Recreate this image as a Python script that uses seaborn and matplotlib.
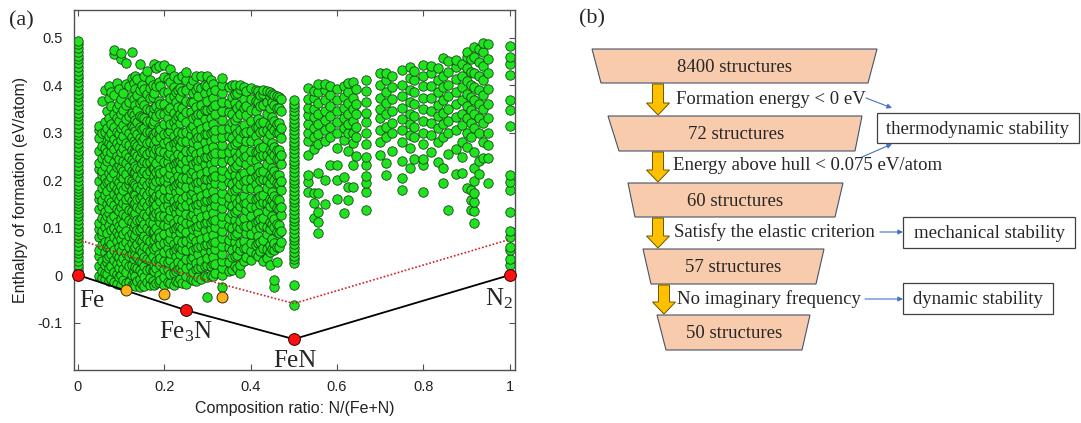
import numpy as np
import pandas as pd
import matplotlib.pyplot as plt
import seaborn as sns
from matplotlib.patches import Polygon, Rectangle

# ---- panel (a) data: enthalpy of formation (meV/atom) per composition N/(Fe+N)
fe_column = ("8 15 22 30 38 46 53 61 69 77 85 92 100 108 116 124 131 139 146 152 158 164 170 176 "
             "183 190 198 206 214 222 230 238 246 254 262 270 278 286 294 302 310 318 326 334 342 "
             "350 358 366 374 382 390 398 406 414 422 430 438 446 454 462 470 478 486 492")

cols_low = {
    0.048: "-3 18 41 52 79 97 110 138 160 171 199 224 236 262 289 305 314",
    0.056: "-6 9 30 63 84 92 121 146 157 183 210 218 247 271 298 367",
    0.0625: "-9 5 22 48 70 101 115 133 168 190 205 229 252 268 301 323 390",
    0.0667: "2 27 36 58 88 124 150 176 195 240 259 282 310 345",
    0.0714: "-12 14 39 60 72 106 130 142 161 199 215 247 279 292 330 372 398",
    0.0769: "-8 20 45 66 94 117 153 185 206 223 258 274 300 318 356 385",
    0.0833: "-15 6 31 53 80 99 125 148 171 190 214 238 265 287 312 340 380 466 474",
    0.0909: "-18 3 24 43 71 91 112 140 163 182 201 228 251 277 302 330 352 405",
    0.0952: "-5 15 38 60 85 104 135 158 176 196 232 244 270 297 325 361 392",
    0.1: "-20 -1 28 50 76 96 118 143 167 188 209 226 260 284 309 338 370 455 467",
    0.1053: "-10 12 35 63 87 109 129 152 178 205 219 241 268 292 316 348 384",
    0.1111: "-17 7 26 47 70 92 124 145 160 187 212 235 255 279 306 329 358 402 446",
    0.1176: "-14 19 40 58 82 115 137 165 192 200 227 249 273 300 335 365 398",
    0.125: "-21 0 22 45 67 89 111 134 156 179 197 220 243 264 290 314 342 377 414 470",
    0.1304: "-18 9 33 55 78 102 126 149 170 193 215 238 258 282 311 336 370 405",
    0.1333: "-23 -2 17 42 60 84 107 131 151 168 190 217 230 256 276 303 326 357 392 420",
    0.1379: "-12 14 38 66 94 115 143 160 186 209 225 250 271 297 322 348 380 412",
    0.1429: "-25 -8 11 30 52 73 95 116 138 162 181 203 224 246 268 289 312 335 362 389 444",
    0.1481: "-19 5 27 49 71 99 120 147 167 192 214 235 259 283 307 333 366 400",
    0.1538: "-24 -4 19 37 61 82 108 128 153 174 198 219 241 262 288 310 330 359 391 418",
    0.16: "-15 10 34 57 76 100 124 145 169 189 212 236 254 277 301 325 350 382 430",
}

cols_mid = {
    0.1667: "-22 -6 12 31 51 72 93 112 134 155 176 196 218 239 260 281 302 324 347 372 394 411",
    0.1739: "-12 10 40 58 90 109 127 156 176 196 226 245 265 296 318 338 374 400",
    0.1765: "-20 8 24 54 74 92 124 141 160 190 208 225 256 275 292 324 352 384 445",
    0.1818: "-17 15 30 60 79 98 130 148 166 198 216 236 266 285 302 335 356 397 436",
    0.1875: "-14 -1 29 44 73 88 117 132 162 178 207 222 252 266 297 312 346 366 406 440",
    0.1905: "-10 21 35 65 80 111 125 155 170 200 215 246 261 291 307 340 361 398",
    0.2: "-21 -5 12 30 49 68 87 106 125 144 163 182 201 220 239 258 277 297 317 338 360 385 416 442",
    0.2083: "-15 12 27 57 72 103 117 148 162 193 207 238 252 283 298 330 348 385 412",
    0.2143: "-16 2 31 46 76 91 122 136 167 181 212 227 257 272 303 318 352 372 406 433",
    0.2222: "-20 5 19 50 65 96 110 141 155 186 201 231 246 277 292 323 341 376 396 420",
    0.2273: "-12 9 40 54 85 100 130 145 175 190 221 235 266 281 312 329 364 386",
    0.2308: "-14 13 28 58 73 103 118 149 163 194 209 239 254 285 301 335 354 390 412",
    0.2353: "-8 14 44 59 90 104 135 149 180 195 225 240 271 287 320 338 374 394",
    0.24: "-16 9 24 55 69 100 115 145 160 191 205 236 251 283 299 332 352 388 418",
    0.25: "-18 -2 15 33 52 71 90 109 128 147 166 185 204 223 243 262 282 302 323 344 366 389 410 428",
    0.2609: "-9 18 33 63 78 109 124 155 170 201 215 246 262 294 310 344 364 400",
    0.2667: "-10 7 37 52 83 97 128 143 174 188 219 234 265 281 313 330 365 384 410",
    0.2727: "-12 12 26 57 72 102 117 148 162 193 208 239 254 286 302 335 353 389 420",
    0.2778: "-5 14 44 59 90 104 135 150 181 196 227 242 274 290 322 340 376 396",
    0.2857: "-8 16 30 61 76 107 122 153 167 198 213 244 259 291 307 340 358 394 418",
    0.2941: "-2 18 49 64 95 110 141 156 187 202 233 248 280 296 329 347 383 401",
    0.3: "-46 -4 21 35 66 81 112 126 157 172 203 218 249 265 297 313 347 366 398 418",
}

cols_high = {
    0.3077: "0 19 50 65 96 111 142 157 188 203 234 250 282 298 331 349 385 410",
    0.3125: "-2 23 38 69 84 115 130 161 176 207 222 254 270 302 319 353 372 402",
    0.3182: "5 24 55 70 101 116 147 162 193 208 240 256 288 305 339 358 390",
    0.3333: "-26 0 14 29 45 61 77 93 109 125 141 157 173 189 206 222 239 256 273 290 308 326 345 364 384 400 414",
    0.35: "8 27 58 73 104 119 150 165 196 212 244 260 293 310 344 363 395",
    0.3571: "10 38 53 84 99 130 145 177 192 224 240 272 289 322 340 375 400",
    0.3636: "20 39 70 85 116 132 163 179 211 227 259 276 309 327 362 382 400",
    0.3684: "15 42 57 89 104 136 151 183 199 231 248 281 298 332 351 383",
    0.375: "4 22 53 68 99 114 145 161 192 208 240 256 289 306 340 359 391 400",
    0.3846: "30 57 72 104 119 151 167 199 215 248 265 298 316 351 371 395",
    0.3889: "38 57 89 104 136 152 184 200 233 250 283 301 336 356 388",
    0.4: "32 50 68 87 106 125 144 163 183 202 222 242 262 283 304 325 347 370 393",
    0.4118: "45 64 96 112 144 160 192 209 242 259 293 311 346 366 390",
    0.4167: "40 67 82 114 130 162 178 210 227 260 277 311 329 364 388",
    0.4211: "50 70 102 118 150 167 200 217 250 268 302 321 356 380",
    0.4286: "30 57 73 105 121 153 169 202 219 252 270 304 323 358 382 390",
    0.4375: "35 54 86 102 134 151 184 201 234 252 286 305 340 364 387",
    0.4444: "21 48 64 96 112 145 161 194 211 245 263 297 316 352 376 385",
    0.45: "55 75 107 124 157 174 207 225 259 277 312 332 364 382",
    0.4545: "-25 -11 52 68 101 117 150 167 200 218 252 270 305 325 357 380",
    0.4615: "28 58 91 108 141 159 193 211 245 264 299 319 351 376",
    0.4667: "60 89 106 140 158 192 210 245 264 300 320 352 374",
    0.4706: "70 92 126 144 179 198 233 253 289 309 346 370",
}

fen_column = ("-63 -21 25 33 41 49 57 65 73 81 89 97 105 113 121 129 137 145 153 161 169 177 185 193 "
              "201 209 217 225 233 241 249 257 265 273 281 289 297 305 313 321 329 337 345 353 361 368")

cols_n_rich = {
    0.5333: "175 196 210 253 282 300 318 336 352 370 393",
    0.5455: "119 151 172 265 290 310 332 350 372 388",
    0.5556: "88 112 133 172 214 275 296 318 340 362 385 403",
    0.5714: "150 200 282 305 326 345 368 390 403",
    0.5833: "232 290 312 335 355 380 398",
    0.6: "161 200 232 268 300 322 345 368 392",
    0.6154: "130 207 285 310 330 352 375 398",
    0.625: "158 186 262 298 318 340 362 385 405",
    0.6364: "186 232 278 300 325 350 372 407",
    0.6429: "250 290 312 338 360 392",
    0.6667: "137 175 193 209 232 249 275 300 322 342 365 388 410",
    0.7: "253 280 305 330 350 372 400 425",
    0.7143: "210 235 290 312 340 362 385 410 425",
    0.7273: "262 298 320 345 370 395 418",
    0.75: "178 204 240 280 305 328 352 376 400 432",
    0.7692: "225 268 295 318 340 365 390 415 438",
    0.7778: "244 290 312 335 360 385 410 430",
    0.8: "175 232 244 275 300 325 350 372 398 420 442",
    0.8182: "260 295 320 345 372 398 425 440",
    0.8333: "238 280 310 335 358 385 410 436",
    0.8462: "194 226 290 318 342 368 395 420 456",
    0.8571: "137 255 300 325 350 376 400 428 450",
    0.875: "212 265 305 332 360 385 412 438 453",
    0.8889: "214 248 280 315 340 368 395 420 445",
    0.9: "183 270 300 330 356 382 408 435 460 470",
    0.9091: "137 158 180 290 320 348 375 400 428 455",
    0.9167: "110 135 154 172 199 225 260 310 340 368 396 425 460 481",
    0.9286: "213 240 300 330 360 390 418 448 475",
    0.9375: "246 280 320 350 380 410 440 470 488",
    0.95: "193 246 274 299 330 360 392 425 455 486",
}

n2_column = "21 33 53 60 79 93 132 178 196 210 314 347 368 421 444 460 482"

hull_x = [0.0, 0.25, 0.5, 1.0]
hull_y = [0.0, -0.074, -0.135, 0.0]
hull_names = ["Fe", "Fe$_3$N", "FeN", "N$_2$"]
meta_x = [0.111, 0.2, 0.333]
meta_y = [-0.031, -0.039, -0.046]
above_hull = 0.075

# ---- panel (b) data
counts = [8400, 72, 60, 57, 50]
criteria = ["Formation energy < 0 eV", "Energy above hull < 0.075 eV/atom",
            "Satisfy the elastic criterion", "No imaginary frequency"]
stability = ["thermodynamic stability", "mechanical stability", "dynamic stability"]


def collect(cols):
    rows = []
    for x, s in cols.items():
        for v in s.split():
            rows.append((x, int(v) / 1000))
    return rows


rows = collect({0.0: fe_column}) + collect(cols_low) + collect(cols_mid) + collect(cols_high)
rows += collect({0.5: fen_column}) + collect(cols_n_rich) + collect({1.0: n2_column})
df = pd.DataFrame(rows, columns=["ratio", "enthalpy"])

sns.set_theme(style="ticks")
plt.rcParams['font.family'] = ['Liberation Sans', 'DejaVu Sans']
plt.rcParams['axes.unicode_minus'] = False
plt.rcParams['mathtext.fontset'] = 'custom'
plt.rcParams['mathtext.rm'] = 'Liberation Serif'
plt.rcParams['mathtext.it'] = 'Liberation Serif:italic'
serif = ['Liberation Serif', 'DejaVu Serif']

W, H = 1081, 423
fig = plt.figure(figsize=(W / 100, H / 100), dpi=100)
ax = fig.add_axes([74 / W, 53 / H, 441 / W, 360 / H])

sns.scatterplot(data=df, x="ratio", y="enthalpy", ax=ax, s=46, color="#1fe31f",
                edgecolor="#144214", linewidth=0.6, legend=False, zorder=2)

hx = np.array(hull_x)
hy = np.array(hull_y)
sns.lineplot(x=hx, y=hy + above_hull, ax=ax, sort=False, color="#d02020",
             linestyle=(0, (1, 1.2)), linewidth=1.2, zorder=3)
sns.lineplot(x=hx, y=hy, ax=ax, sort=False, color="black", linewidth=1.3, zorder=3)
sns.scatterplot(x=meta_x, y=meta_y, ax=ax, s=62, color="#ffb31a", edgecolor="#3a2a00",
                linewidth=0.7, zorder=4, clip_on=False)
sns.scatterplot(x=hull_x, y=hull_y, ax=ax, s=72, color="#ff1010", edgecolor="#300000",
                linewidth=0.7, zorder=5, clip_on=False)

label_pos = [(0.032, -0.068, 'center'), (0.25, -0.133, 'center'),
             (0.502, -0.193, 'center'), (1.008, -0.063, 'right')]
for name, (lx, ly, ha) in zip(hull_names, label_pos):
    ax.text(lx, ly, name, ha=ha, va='baseline', fontsize=18, family=serif, zorder=6)

ax.set_xlim(-0.009, 1.012)
ax.set_ylim(-0.2, 0.558)
ax.set_xticks([0, 0.2, 0.4, 0.6, 0.8, 1.0])
ax.set_xticklabels(["0", "0.2", "0.4", "0.6", "0.8", "1"])
ax.set_yticks([-0.1, 0, 0.1, 0.2, 0.3, 0.4, 0.5])
ax.set_yticklabels(["-0.1", "0", "0.1", "0.2", "0.3", "0.4", "0.5"])
ax.tick_params(direction='in', top=True, right=True, length=4, width=0.8,
               color='#505050', labelsize=10.5, labelcolor='#222222')
ax.tick_params(axis='x', pad=7)
ax.tick_params(axis='y', pad=8)
for sp in ax.spines.values():
    sp.set_color('#505050')
    sp.set_linewidth(1.0)
ax.set_xlabel("Composition ratio: N/(Fe+N)", fontsize=11.5, color='#222222')
ax.set_ylabel("Enthalpy of formation (eV/atom)", fontsize=11.5, color='#222222')
ax.xaxis.set_label_coords(0.5, -0.085)
ax.yaxis.set_label_coords(-0.105, 0.5)

# ---- panel (b): flow chart drawn in pixel coordinates
ov = fig.add_axes([0, 0, 1, 1])
ov.set_xlim(0, W)
ov.set_ylim(H, 0)
ov.axis('off')
ov.patch.set_alpha(0)

ov.text(21, 21, "(a)", ha='center', va='center', fontsize=16, family=serif)
ov.text(592, 19, "(b)", ha='center', va='center', fontsize=16, family=serif)

traps = [(592, 877, 601, 868, 49, 83), (608, 862, 619, 855, 116, 151),
         (628, 843, 635, 835, 183, 217), (643, 824, 651, 816, 249, 284),
         (657, 810, 666, 802, 315, 350)]
for n, (tl, tr, bl, br, yt, yb) in zip(counts, traps):
    ov.add_patch(Polygon([(tl, yt), (tr, yt), (br, yb), (bl, yb)], closed=True,
                         fc='#f8cbad', ec='#44546a', lw=0.8))
    ov.text((tl + tr + bl + br) / 4, (yt + yb) / 2 + 1, f"{n} structures", ha='center',
            va='center', fontsize=13.5, family=serif)

arrow_x = [658, 658, 658, 664]
crit_pos = [(676, 100), (673, 166), (674, 232), (677, 299)]
for i, (txt, xc, (tx, ty)) in enumerate(zip(criteria, arrow_x, crit_pos)):
    y0 = traps[i][5] + 1
    y1 = traps[i + 1][4] - 1
    hl = 12
    pts = [(xc - 5.5, y0), (xc + 5.5, y0), (xc + 5.5, y1 - hl), (xc + 11.5, y1 - hl),
           (xc, y1), (xc - 11.5, y1 - hl), (xc - 5.5, y1 - hl)]
    ov.add_patch(Polygon(pts, closed=True, fc='#ffc000', ec='#6b5500', lw=0.7))
    ov.text(tx, ty, txt, ha='left', va='center', fontsize=13.5, family=serif)

boxes = [(877, 113, 1079, 143), (903, 217, 1075, 248), (903, 283, 1053, 314)]
for txt, (x0, y0, x1, y1) in zip(stability, boxes):
    ov.add_patch(Rectangle((x0, y0), x1 - x0, y1 - y0, fc='white', ec='#404040', lw=0.9))
    ov.text((x0 + x1) / 2, (y0 + y1) / 2 + 1, txt, ha='center', va='center',
            fontsize=13.5, family=serif)

links = [((866, 98), (892, 108)), ((862, 157), (892, 144)),
         ((880, 232), (903, 232)), ((865, 299), (903, 299))]
for start, end in links:
    ov.annotate('', xy=end, xytext=start,
                arrowprops=dict(arrowstyle='-|>', color='#4472c4', lw=0.8,
                                mutation_scale=7, shrinkA=0, shrinkB=0))

fig.savefig('out.png', dpi=100)
